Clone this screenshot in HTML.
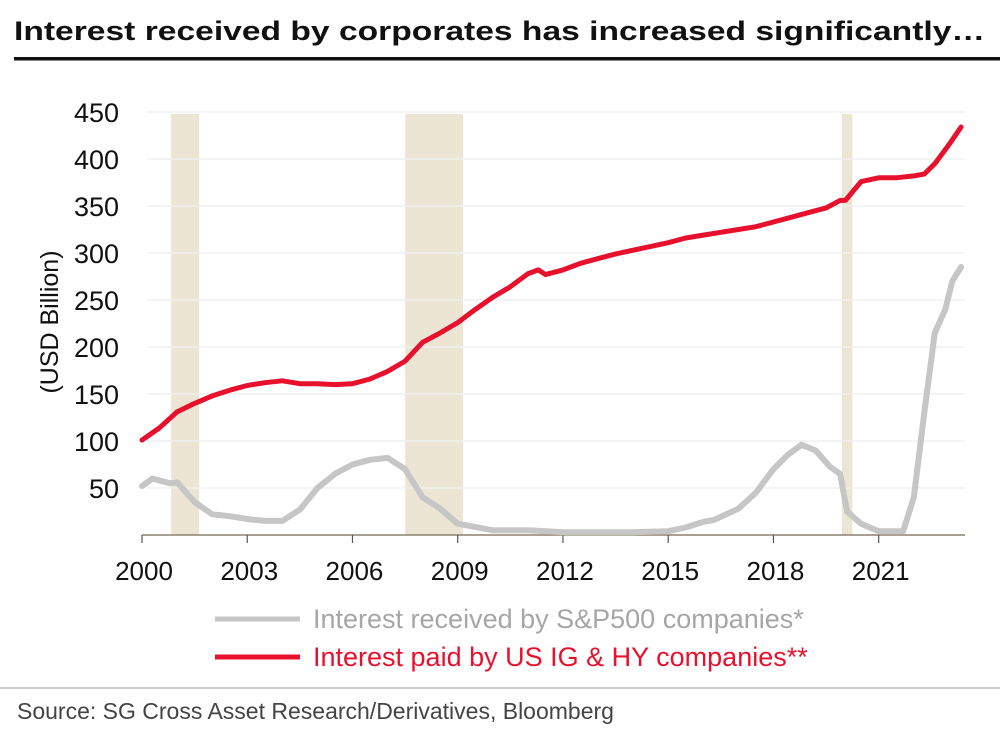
<!DOCTYPE html>
<html><head><meta charset="utf-8"><style>
html,body{margin:0;padding:0;background:#fff;}
svg{display:block;font-family:"Liberation Sans",sans-serif;}
</style></head><body>
<svg id="chart" width="1000" height="742" viewBox="0 0 1000 742" xmlns="http://www.w3.org/2000/svg">
<text x="14" y="40" font-size="27" font-weight="bold" textLength="971" lengthAdjust="spacingAndGlyphs" fill="#111">Interest received by corporates has increased significantly…</text>
<rect x="14" y="57" width="986" height="3.5" fill="#111"/>
<g id="bands"></g>
<g id="grid"></g>
<g id="yticks"></g>
<g id="xticks"></g>
<text transform="translate(58,322) rotate(-90)" text-anchor="middle" font-size="25" fill="#111">(USD Billion)</text>
<g id="series"></g>
<line x1="215" y1="619" x2="300" y2="619" stroke="#c6c6c6" stroke-width="5"/>
<text x="313" y="628" font-size="27" fill="#a6a6a6">Interest received by S&amp;P500 companies*</text>
<line x1="215" y1="657" x2="300" y2="657" stroke="#e8112d" stroke-width="5"/>
<text x="313" y="666" font-size="27" fill="#e8112d">Interest paid by US IG &amp; HY companies**</text>
<line x1="0" y1="688" x2="1000" y2="688" stroke="#999" stroke-width="1"/>
<text x="17" y="719" font-size="23" fill="#444">Source: SG Cross Asset Research/Derivatives, Bloomberg</text>
</svg>
<script>
const yTicks=[50,100,150,200,250,300,350,400,450];
const xTicks=[2000,2003,2006,2009,2012,2015,2018,2021];
const recessions=[[2000.83,2001.63],[2007.5,2009.15],[2019.95,2020.25]];
const paidYears=[2000,2000.5,2001,2001.5,2002,2002.5,2003,2003.5,2004,2004.5,2005,2005.5,2006,2006.5,2007,2007.5,2008,2008.5,2009,2009.5,2010,2010.5,2011,2011.3,2011.5,2012,2012.5,2013,2013.5,2014,2014.5,2015,2015.5,2016,2016.5,2017,2017.5,2018,2018.5,2019,2019.5,2019.9,2020.05,2020.5,2021,2021.5,2022,2022.3,2022.6,2023,2023.35];
const paidValues=[101,114,131,140,148,154,159,162,164,161,161,160,161,166,174,185,205,215,226,240,253,264,278,282,277,282,289,294,299,303,307,311,316,319,322,325,328,333,338,343,348,356,356,376,380,380,382,384,395,415,434];
const recvYears=[2000,2000.3,2000.8,2001,2001.5,2002,2002.5,2003,2003.5,2004,2004.5,2005,2005.5,2006,2006.5,2007,2007.5,2008,2008.5,2009,2010,2011,2012,2013,2014,2015,2015.5,2016,2016.3,2017,2017.5,2018,2018.4,2018.8,2019.2,2019.6,2019.9,2020.1,2020.5,2021,2021.7,2022,2022.3,2022.6,2022.9,2023.1,2023.35];
const recvValues=[52,60,55,56,35,22,20,17,15,15,27,50,65,75,80,82,70,40,28,12,5,5,3,3,3,4,8,14,16,28,45,70,85,96,90,73,65,25,12,4,4,40,130,215,240,270,285];
const NS="http://www.w3.org/2000/svg";
const x0=142,pxYear=35.08,y0=535,pxUnit=0.94;
function X(v){return x0+(v-2000)*pxYear;}
function Y(v){return y0-v*pxUnit;}
function mk(t,attrs,parent){const e=document.createElementNS(NS,t);for(const k in attrs)e.setAttribute(k,attrs[k]);document.getElementById(parent).appendChild(e);return e;}
recessions.forEach(r=>{
 const e=mk('rect',{x:X(r[0]),y:Y(450)+2,width:X(r[1])-X(r[0]),height:y0-Y(450)-2,fill:'#ede5d3'},'bands');
 
 
});
yTicks.forEach(v=>{
 const g=mk('line',{x1:147,x2:965,y1:Y(v),y2:Y(v),stroke:'#f0f0f0','stroke-width':1.5},'grid');
 
 
 const t=mk('text',{x:119,y:Y(v)+10,'text-anchor':'end','font-size':27,fill:'#111'},'yticks');
 t.textContent=v;
 
 
});
const ax=mk('line',{x1:x0,x2:965,y1:y0,y2:y0,stroke:'#8a8270','stroke-width':1.5},'xticks');


xTicks.forEach(v=>{
 const l=mk('line',{x1:X(v),x2:X(v),y1:y0,y2:y0+8,stroke:'#555','stroke-width':1.2},'xticks');
 
 
 const t=mk('text',{x:X(v)+2,y:y0+45,'text-anchor':'middle','font-size':26,fill:'#111'},'xticks');
 t.textContent=v;
 
 
});
function path(xs,vs){return xs.map((x,i)=>(i?'L':'M')+X(x).toFixed(1)+','+Y(vs[i]).toFixed(1)).join(' ');}
const g1=mk('path',{d:path(recvYears,recvValues),fill:'none',stroke:'#c6c6c6','stroke-width':6,'stroke-linejoin':'round','stroke-linecap':'round'},'series');


const g2=mk('path',{d:path(paidYears,paidValues),fill:'none',stroke:'#e8112d','stroke-width':5,'stroke-linejoin':'round','stroke-linecap':'round'},'series');


</script>
</body></html>
